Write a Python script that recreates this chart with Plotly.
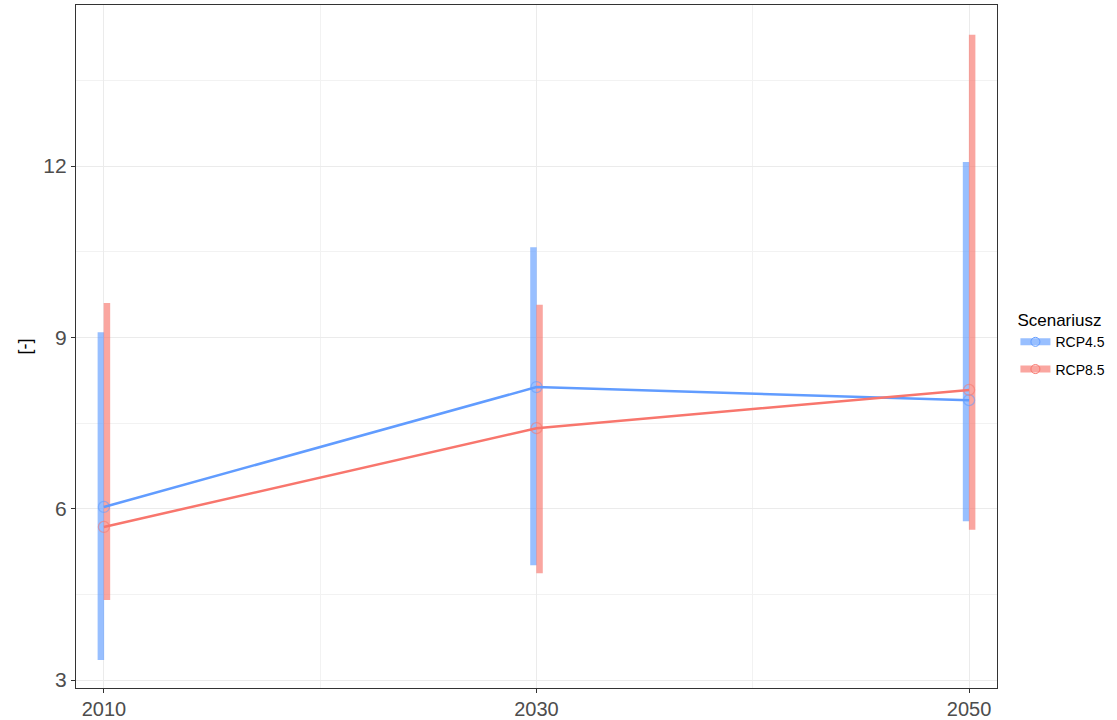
import plotly.graph_objects as go

years = [2010, 2030, 2050]
scenarios = ["RCP4.5", "RCP8.5"]
mean_rcp45 = [6.03, 8.13, 7.90]
low_rcp45 = [3.35, 5.01, 5.78]
high_rcp45 = [9.09, 10.58, 12.07]
mean_rcp85 = [5.68, 7.41, 8.08]
low_rcp85 = [4.40, 4.87, 5.63]
high_rcp85 = [9.60, 9.57, 14.30]

colors = {"RCP4.5": "#619CFF", "RCP8.5": "#F8766D"}
bar_colors = {"RCP4.5": "rgba(97,156,255,0.65)", "RCP8.5": "rgba(248,118,109,0.65)"}
marker_colors = {"RCP4.5": "rgba(97,156,255,0.55)", "RCP8.5": "rgba(248,118,109,0.55)"}
dodge = {"RCP4.5": -0.14, "RCP8.5": 0.14}

data = {
    "RCP4.5": (mean_rcp45, low_rcp45, high_rcp45),
    "RCP8.5": (mean_rcp85, low_rcp85, high_rcp85),
}

fig = go.Figure()
for s in scenarios:
    m, lo, hi = data[s]
    xs = [y + dodge[s] for y in years]
    fig.add_trace(go.Scatter(
        x=xs, y=m, mode="markers",
        marker=dict(size=1, color="rgba(0,0,0,0)"),
        error_y=dict(type="data", symmetric=False,
                     array=[h - v for h, v in zip(hi, m)],
                     arrayminus=[v - l for v, l in zip(m, lo)],
                     thickness=6.5, width=0, color=bar_colors[s]),
        showlegend=False, hoverinfo="skip"))
for s in scenarios:
    m, lo, hi = data[s]
    fig.add_trace(go.Scatter(
        x=years, y=m, mode="lines",
        line=dict(color=colors[s], width=2.5),
        showlegend=False))
    fig.add_trace(go.Scatter(
        x=years, y=m, mode="markers",
        marker=dict(symbol="circle-open", size=11, color=marker_colors[s],
                    line=dict(width=1.3)),
        showlegend=False))
    fig.add_trace(go.Scatter(
        x=[None], y=[None], mode="lines+markers", name=s, legendgroup=s,
        line=dict(color=bar_colors[s], width=7),
        marker=dict(symbol="circle-open", size=9, color=colors[s]),
        showlegend=True))

fig.update_layout(
    width=1117, height=720,
    margin=dict(l=76, r=120, t=5, b=32),
    plot_bgcolor="white", paper_bgcolor="white",
    font=dict(family="Liberation Sans, Arial, sans-serif", color="#4D4D4D"),
    legend=dict(title=dict(text="Scenariusz", font=dict(size=17, color="black")),
                x=1.02, y=0.562, xanchor="left", yanchor="top",
                font=dict(size=14, color="black"), tracegroupgap=6,
                itemwidth=30),
)
fig.update_xaxes(
    range=[2008.71, 2051.29], tickvals=years, ticktext=[str(y) for y in years],
    tickfont=dict(size=20, color="#4D4D4D"), automargin=False, ticklabelstandoff=-1,
    showgrid=True, gridcolor="#EBEBEB", gridwidth=1.1,
    minor=dict(tickvals=[2020, 2040], showgrid=True, gridcolor="#F2F2F2", gridwidth=0.6, ticklen=0),
    ticks="outside", ticklen=4, tickcolor="#333333",
    showline=True, linecolor="#333333", linewidth=1.2, mirror=True, zeroline=False)
fig.update_yaxes(
    range=[2.86, 14.82], tickvals=[3, 6, 9, 12],
    tickfont=dict(size=21, color="#4D4D4D"), automargin=False,
    title=dict(text="[-]", font=dict(size=18, color="black"), standoff=7),
    showgrid=True, gridcolor="#EBEBEB", gridwidth=1.1,
    minor=dict(tickvals=[4.5, 7.5, 10.5, 13.5], showgrid=True, gridcolor="#F2F2F2", gridwidth=0.6, ticklen=0),
    ticks="outside", ticklen=4, tickcolor="#333333",
    showline=True, linecolor="#333333", linewidth=1.2, mirror=True, zeroline=False)

fig.write_html("out.html", config={"displayModeBar": False},
               post_script="document.body.style.margin='0';")
